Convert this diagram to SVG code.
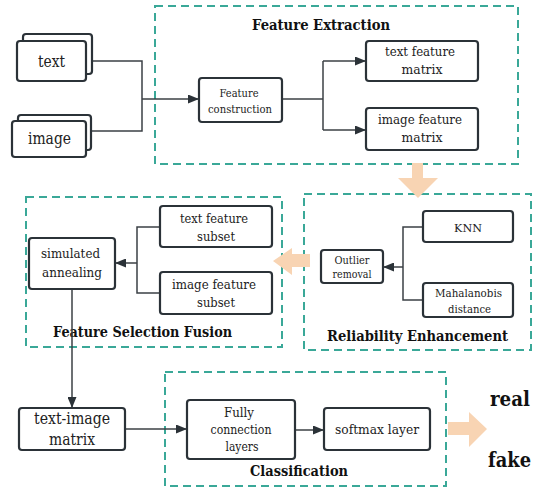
<svg xmlns="http://www.w3.org/2000/svg" width="535" height="488" viewBox="0 0 535 488">
<style>
.grp{fill:none;stroke:#3aa898;stroke-width:2;stroke-dasharray:8 5}
.box{fill:#fff;stroke:#2b3238;stroke-width:2.2}
text{font-family:'DejaVu Serif','Liberation Serif',serif}
.t{fill:#222;text-anchor:middle}
.title{font-weight:bold;font-size:15px;fill:#111;text-anchor:middle}
.out{font-weight:bold;font-size:20px;fill:#111;text-anchor:middle}
.con{fill:none;stroke:#3b4045;stroke-width:1.5}
.big{fill:#f8d4b3}
</style>
<defs>
<marker id="ah" markerUnits="userSpaceOnUse" markerWidth="11" markerHeight="9" refX="11" refY="4.5" orient="auto">
<path d="M0,0 L11,4.5 L0,9 z" fill="#2b3238"/>
</marker>
</defs>

<g id="group-extraction">
<rect class="grp" x="155" y="6" width="363" height="158"/>
<text class="title" x="321" y="30" textLength="138" lengthAdjust="spacingAndGlyphs">Feature Extraction</text>
</g>
<g id="group-fusion">
<rect class="grp" x="26" y="197" width="256" height="150"/>
<text class="title" x="142.5" y="337" textLength="179" lengthAdjust="spacingAndGlyphs">Feature Selection Fusion</text>
</g>
<g id="group-reliability">
<rect class="grp" x="304" y="194" width="227" height="156"/>
<text class="title" x="417.5" y="341" textLength="181" lengthAdjust="spacingAndGlyphs">Reliability Enhancement</text>
</g>
<g id="group-classification">
<rect class="grp" x="165" y="372" width="281" height="114"/>
<text class="title" x="299" y="476" textLength="98" lengthAdjust="spacingAndGlyphs">Classification</text>
</g>

<g id="big-arrows">
<path class="big" d="M412,163 H423 V178 H438 L418,198 L398,178 H412 z"/>
<path class="big" d="M310,254 V267 H292 V275 L273,261 L292,248 V254 z"/>
<path class="big" d="M448,422 H469 V412 L487,429 L469,447 V435 H448 z"/>
</g>

<g id="connectors">
<path class="con" d="M92,61 H142 V131 H91"/>
<path class="con" d="M142,99 H199" marker-end="url(#ah)"/>
<path class="con" d="M282,99 H323"/>
<path class="con" d="M323,61 V130"/>
<path class="con" d="M323,61 H366" marker-end="url(#ah)"/>
<path class="con" d="M323,130 H366" marker-end="url(#ah)"/>
<path class="con" d="M160,227 H137 V293 H160"/>
<path class="con" d="M137,263 H115" marker-end="url(#ah)"/>
<path class="con" d="M423,227 H403 V300 H423"/>
<path class="con" d="M403,267 H383" marker-end="url(#ah)"/>
<path class="con" d="M72,289 V408" marker-end="url(#ah)"/>
<path class="con" d="M125,429 H187" marker-end="url(#ah)"/>
<path class="con" d="M295,430 H324" marker-end="url(#ah)"/>
</g>

<g id="node-text">
<rect class="box" x="23" y="34" width="69" height="40" rx="3"/>
<rect class="box" x="17" y="41" width="69" height="40" rx="3"/>
<text class="t" x="51.5" y="67" font-size="16" textLength="27" lengthAdjust="spacingAndGlyphs">text</text>
</g>
<g id="node-image">
<rect class="box" x="18" y="115" width="73" height="35" rx="3"/>
<rect class="box" x="12" y="121" width="74" height="36" rx="3"/>
<text class="t" x="49.5" y="144" font-size="16" textLength="43" lengthAdjust="spacingAndGlyphs">image</text>
</g>
<g id="node-feature-construction">
<rect class="box" x="199" y="78" width="83" height="44" rx="3"/>
<text class="t" x="239" y="97" font-size="11.5" textLength="39" lengthAdjust="spacingAndGlyphs">Feature</text>
<text class="t" x="240" y="113" font-size="11.5" textLength="64" lengthAdjust="spacingAndGlyphs">construction</text>
</g>
<g id="node-text-feature-matrix">
<rect class="box" x="366" y="41" width="112" height="40" rx="3"/>
<text class="t" x="420" y="56" font-size="13.5" textLength="70" lengthAdjust="spacingAndGlyphs">text feature</text>
<text class="t" x="422" y="74" font-size="13.5" textLength="41" lengthAdjust="spacingAndGlyphs">matrix</text>
</g>
<g id="node-image-feature-matrix">
<rect class="box" x="366" y="108" width="112" height="42" rx="3"/>
<text class="t" x="420" y="124" font-size="13.5" textLength="84" lengthAdjust="spacingAndGlyphs">image feature</text>
<text class="t" x="422" y="142" font-size="13.5" textLength="41" lengthAdjust="spacingAndGlyphs">matrix</text>
</g>
<g id="node-simulated-annealing">
<rect class="box" x="29" y="238" width="86" height="51" rx="3"/>
<text class="t" x="70.5" y="258" font-size="13.5" textLength="59" lengthAdjust="spacingAndGlyphs">simulated</text>
<text class="t" x="72" y="277" font-size="13.5" textLength="60" lengthAdjust="spacingAndGlyphs">annealing</text>
</g>
<g id="node-text-feature-subset">
<rect class="box" x="160" y="206" width="112" height="41" rx="3"/>
<text class="t" x="214" y="223" font-size="13.5" textLength="68" lengthAdjust="spacingAndGlyphs">text feature</text>
<text class="t" x="216" y="241" font-size="13.5" textLength="38" lengthAdjust="spacingAndGlyphs">subset</text>
</g>
<g id="node-image-feature-subset">
<rect class="box" x="160" y="272" width="112" height="42" rx="3"/>
<text class="t" x="214" y="289" font-size="13.5" textLength="84" lengthAdjust="spacingAndGlyphs">image feature</text>
<text class="t" x="216" y="307" font-size="13.5" textLength="38" lengthAdjust="spacingAndGlyphs">subset</text>
</g>
<g id="node-outlier-removal">
<rect class="box" x="321" y="250" width="62" height="33" rx="3"/>
<text class="t" x="352" y="264" font-size="10.5" textLength="35" lengthAdjust="spacingAndGlyphs">Outlier</text>
<text class="t" x="352" y="278" font-size="10.5" textLength="39" lengthAdjust="spacingAndGlyphs">removal</text>
</g>
<g id="node-knn">
<rect class="box" x="423" y="211" width="90" height="31" rx="3"/>
<text class="t" x="468" y="232" font-size="11.5" textLength="28" lengthAdjust="spacingAndGlyphs">KNN</text>
</g>
<g id="node-mahalanobis">
<rect class="box" x="423" y="283" width="90" height="34" rx="3"/>
<text class="t" x="468.5" y="297" font-size="11.5" textLength="67" lengthAdjust="spacingAndGlyphs">Mahalanobis</text>
<text class="t" x="469.5" y="313" font-size="11.5" textLength="43" lengthAdjust="spacingAndGlyphs">distance</text>
</g>
<g id="node-text-image-matrix">
<rect class="box" x="19" y="408" width="106" height="42" rx="3"/>
<text class="t" x="72" y="424" font-size="16" textLength="76" lengthAdjust="spacingAndGlyphs">text-image</text>
<text class="t" x="72" y="445" font-size="16" textLength="46" lengthAdjust="spacingAndGlyphs">matrix</text>
</g>
<g id="node-fully-connection">
<rect class="box" x="187" y="400" width="108" height="59" rx="3"/>
<text class="t" x="239" y="417" font-size="12.5" textLength="30" lengthAdjust="spacingAndGlyphs">Fully</text>
<text class="t" x="241" y="434" font-size="12.5" textLength="61" lengthAdjust="spacingAndGlyphs">connection</text>
<text class="t" x="242" y="451" font-size="12.5" textLength="33" lengthAdjust="spacingAndGlyphs">layers</text>
</g>
<g id="node-softmax">
<rect class="box" x="324" y="408" width="106" height="42" rx="3"/>
<text class="t" x="377" y="434" font-size="13.5" textLength="84" lengthAdjust="spacingAndGlyphs">softmax layer</text>
</g>
<g id="outputs">
<text class="out" x="510" y="406" textLength="40" lengthAdjust="spacingAndGlyphs">real</text>
<text class="out" x="509.5" y="467" textLength="43" lengthAdjust="spacingAndGlyphs">fake</text>
</g>
</svg>
